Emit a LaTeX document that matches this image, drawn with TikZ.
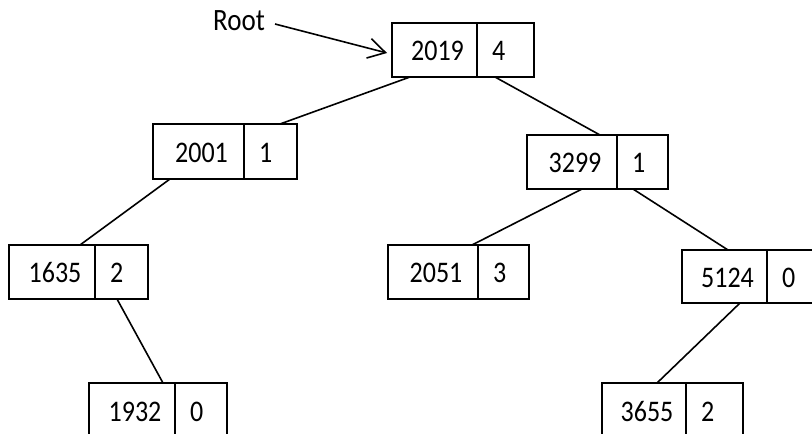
\documentclass[tikz,border=0pt]{standalone}
\usepackage{fontspec}
\usepackage{graphicx}
\setmainfont{Carlito}
\usetikzlibrary{arrows.meta}
\newcommand\tx[1]{\scalebox{1}[1.15]{#1}}
\tikzset{
  cell/.style={draw, line width=1.6pt, inner sep=0pt, outer sep=0pt, rectangle},
  num/.style={inner sep=0pt, font=\fontsize{26}{26}\selectfont},
  edge/.style={line width=1.6pt},
}
% name, xleft, xdiv, xright, ytop, ybot, key, value
\newcommand\tbox[8]{%
  \node[cell, minimum width={(#4-#2)*1pt}, minimum height={(#6-#5)*1pt}, anchor=north west] (#1) at (#2,#5) {};
  \draw[edge] (#3,#5) -- (#3,#6);
  \node[num] (#1-k) at ({(#2+#3)/2+3},{(#5+#6)/2+1}) {\tx{#7}};
  \node[num, anchor=west] (#1-v) at ({#3+15},{(#5+#6)/2+1}) {\tx{#8}};
}
\begin{document}
\begin{tikzpicture}[x=1pt,y=-1pt]
\useasboundingbox (0,0) rectangle (812,434);
\clip (0,0) rectangle (812,434);
\tbox{root}{392}{477}{534}{23}{77}{2019}{4}
\tbox{n2001}{153}{244}{297}{124}{179}{2001}{1}
\tbox{n3299}{527}{617}{668}{135}{189}{3299}{1}
\tbox{n1635}{9}{95}{148}{245}{299}{1635}{2}
\tbox{n2051}{388}{478}{529}{245}{299}{2051}{3}
\tbox{n5124}{682}{767}{826}{250}{303}{5124}{0}
\tbox{n1932}{89}{175}{227}{383}{438}{1932}{0}
\tbox{n3655}{602}{686}{743}{383}{438}{3655}{2}
\node[num, anchor=base east, font=\fontsize{27}{27}\selectfont] (rootlbl) at (265,30) {\tx{Root}};
\coordinate (rootarrow) at (275,24);
\draw[edge, -{Straight Barb[length=17pt,width=20pt]}] (rootarrow) -- ([xshift=-5pt,yshift=-3pt]root.west);
\draw[edge] ([xshift=18pt]root.south west) -- ([xshift=127pt]n2001.north west);
\draw[edge] ([xshift=103pt]root.south west) -- ([xshift=73pt]n3299.north west);
\draw[edge] ([xshift=17pt]n2001.south west) -- ([xshift=71pt]n1635.north west);
\draw[edge] ([xshift=108pt]n1635.south west) -- ([xshift=74pt]n1932.north west);
\draw[edge] ([xshift=55pt]n3299.south west) -- ([xshift=84pt]n2051.north west);
\draw[edge] ([xshift=106pt]n3299.south west) -- ([xshift=46pt]n5124.north west);
\draw[edge] ([xshift=58pt]n5124.south west) -- ([xshift=55pt]n3655.north west);
\end{tikzpicture}
\end{document}
